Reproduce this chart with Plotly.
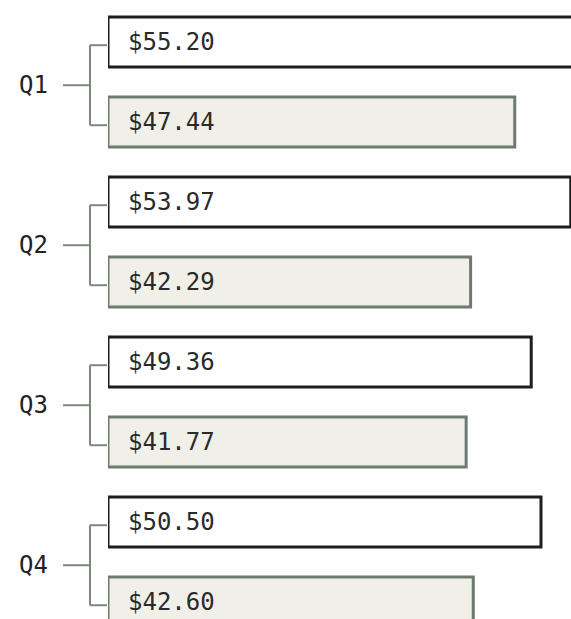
import plotly.graph_objects as go

quarters = ["Q1", "Q2", "Q3", "Q4"]
series_a = [55.20, 53.97, 49.36, 50.50]
series_b = [47.44, 42.29, 41.77, 42.60]

FONT = "DejaVu Sans Mono"
BAR_W = 0.3125
SLOT = 0.25  # distance from category centre to each bar centre

fig = go.Figure()
fig.add_trace(go.Bar(
    y=quarters, x=series_a, orientation="h",
    width=BAR_W, offset=-SLOT - BAR_W / 2,
    marker=dict(color="#ffffff", line=dict(color="#1e1e1e", width=3)),
    hoverinfo="x+y", showlegend=False,
))
fig.add_trace(go.Bar(
    y=quarters, x=series_b, orientation="h",
    width=BAR_W, offset=SLOT - BAR_W / 2,
    marker=dict(color="#f0efe8", line=dict(color="#6e7a70", width=3)),
    hoverinfo="x+y", showlegend=False,
))

annotations = []
shapes = []
bracket = dict(color="#7d887e", width=2)
nudge = 0.02
for i, q in enumerate(quarters):
    # value labels inside the bars
    for val, pos in ((series_a[i], i - SLOT), (series_b[i], i + SLOT)):
        annotations.append(dict(
            x=0, y=pos, xref="x", yref="y", text=f"${val:.2f}",
            showarrow=False, xanchor="left", yanchor="middle", xshift=18,
            font=dict(family=FONT, size=24, color="#2a2a2a"),
        ))
    # quarter label
    annotations.append(dict(
        x=0, y=i + nudge, xref="x", yref="y", text=q,
        showarrow=False, xanchor="right", yanchor="middle", xshift=-58,
        font=dict(family=FONT, size=24, color="#222222"),
    ))
    # bracket joining the label to its two bars
    top, mid, bot = i - SLOT + nudge, i + nudge, i + SLOT + nudge
    common = dict(type="line", xref="paper", yref="y", xsizemode="pixel",
                  xanchor=0, line=bracket, layer="above")
    shapes.append(dict(common, x0=-45, x1=-18, y0=mid, y1=mid))
    shapes.append(dict(common, x0=-18, x1=-18, y0=top, y1=bot))
    shapes.append(dict(common, x0=-18, x1=-1, y0=top, y1=top))
    shapes.append(dict(common, x0=-18, x1=-1, y0=bot, y1=bot))

fig.update_layout(
    width=571, height=619,
    margin=dict(l=108, r=0, t=0, b=0),
    paper_bgcolor="#ffffff", plot_bgcolor="#ffffff",
    barmode="overlay",
    annotations=annotations, shapes=shapes,
)
fig.update_xaxes(range=[0, 54], visible=False, fixedrange=True)
fig.update_yaxes(
    type="category", categoryorder="array", categoryarray=quarters,
    range=[3.356, -0.5125], showticklabels=False, showgrid=False,
    zeroline=False, showline=False, fixedrange=True,
)

fig.write_html("out.html", config={"displayModeBar": False})
